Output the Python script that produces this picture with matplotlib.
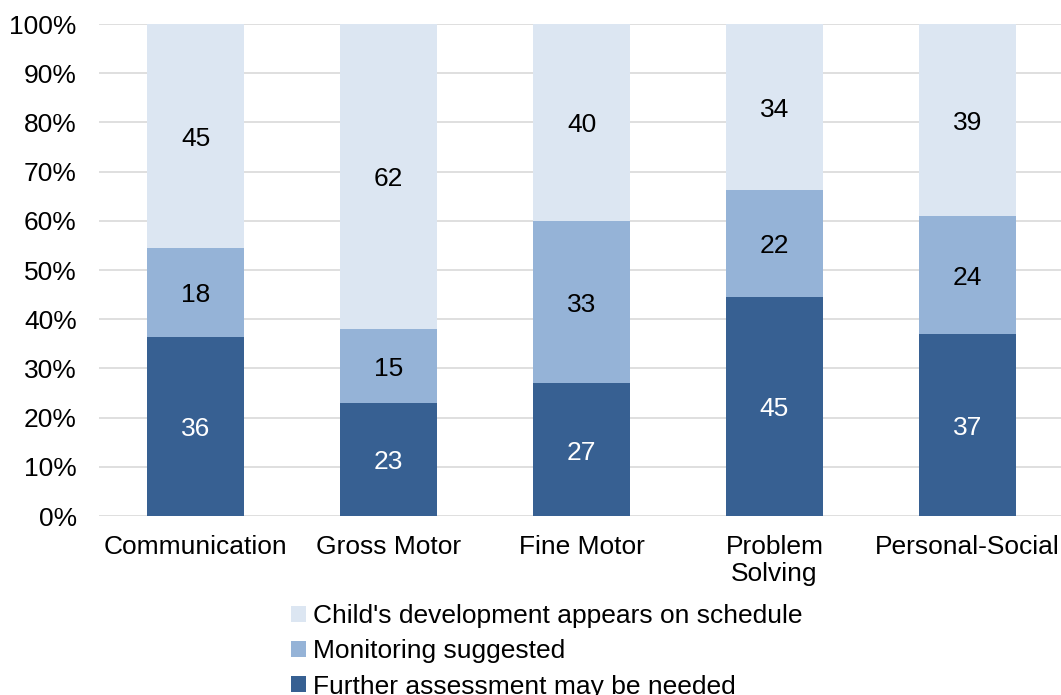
import numpy as np
import matplotlib.pyplot as plt
from matplotlib.patches import Patch

plt.rcParams['font.family'] = ['Liberation Sans', 'DejaVu Sans']

categories = ["Communication", "Gross Motor", "Fine Motor", "Problem\nSolving", "Personal-Social"]
further = [36, 23, 27, 45, 37]
monitoring = [18, 15, 33, 22, 24]
on_schedule = [45, 62, 40, 34, 39]

series = [
    ("Further assessment may be needed", further, "#376092", "white"),
    ("Monitoring suggested", monitoring, "#95b3d7", "black"),
    ("Child's development appears on schedule", on_schedule, "#dce6f2", "black"),
]

totals = np.array(further) + np.array(monitoring) + np.array(on_schedule)
fs = 19

fig = plt.figure(figsize=(10.61, 6.95), dpi=100)
ax = fig.add_axes([99 / 1061, 179 / 695, 965 / 1061, 492 / 695])

x = np.arange(len(categories))
bottom = np.zeros(len(categories))
for name, vals, color, tcol in series:
    pct = np.array(vals) / totals * 100
    ax.bar(x, pct, 0.5, bottom=bottom, color=color, label=name, zorder=2)
    for xi, b, p, v in zip(x, bottom, pct, vals):
        ax.text(xi, b + p / 2 - 0.6, str(v), ha="center", va="center",
                fontsize=fs, color=tcol, zorder=3)
    bottom += pct

ax.set_xlim(-0.5, len(categories) - 0.5)
ax.set_ylim(0, 100)
ax.set_yticks(range(0, 101, 10))
ax.set_yticklabels([f"{v}%" for v in range(0, 101, 10)])
ax.set_xticks(x)
ax.set_xticklabels(categories, linespacing=1.15)
ax.tick_params(axis="both", length=0, labelsize=fs)
ax.tick_params(axis="y", pad=16)
ax.tick_params(axis="x", pad=14)
ax.yaxis.grid(True, color="#d9d9d9", linewidth=1.2, zorder=0)
ax.set_axisbelow(True)
for s in ax.spines.values():
    s.set_visible(False)

handles = [Patch(facecolor=c, label=n) for n, _, c, _ in reversed(series)]
fig.legend(handles=handles, loc="upper left", bbox_to_anchor=(291 / 1061, 1 - 604 / 695),
           frameon=False, fontsize=fs, handlelength=0.55, handleheight=0.55,
           handletextpad=0.3, labelspacing=0.43, borderpad=0, borderaxespad=0)

fig.savefig("out.png", dpi=100)
